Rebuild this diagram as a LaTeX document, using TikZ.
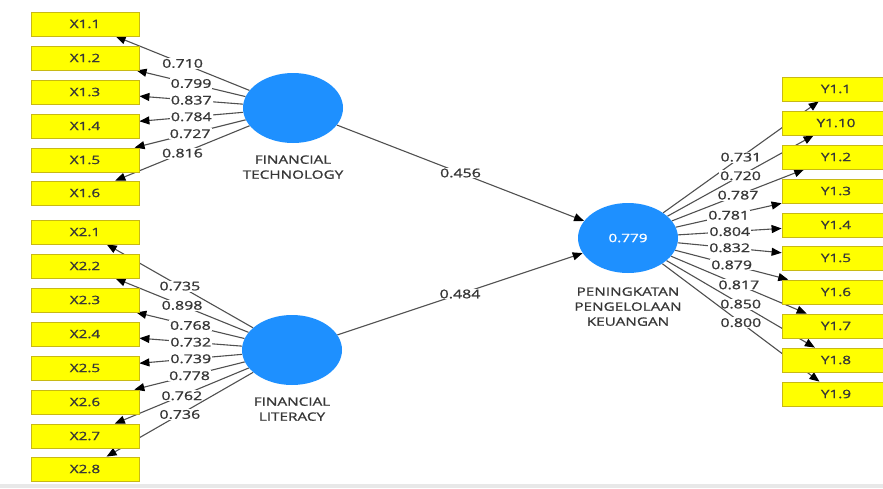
\documentclass[tikz,border=0pt]{standalone}
\usepackage{fontspec}
\setmainfont{Open Sans}[FakeStretch=1.33, FakeBold=1.2]
\usetikzlibrary{arrows.meta,shapes.geometric,positioning,backgrounds}
\definecolor{Kuning}{RGB}{255, 255, 0}
\definecolor{KuningTepi}{RGB}{200, 185, 20}
\definecolor{Biru}{RGB}{30, 144, 255}
\definecolor{Garis}{RGB}{80, 80, 80}
\definecolor{Teks}{RGB}{55, 55, 55}

\tikzset{
  indikator/.style={draw=KuningTepi, fill=Kuning, line width=0.8pt, minimum width=108pt,
    minimum height=24pt, inner sep=0pt, text=Teks, font=\fontsize{11.5}{13}\selectfont},
  konstruk/.style={ellipse, fill=Biru, minimum width=100pt, minimum height=70pt, inner sep=0pt,
    text=white, font=\fontsize{11.5}{13}\selectfont},
  keterangan/.style={align=center, inner sep=0pt, text=Teks, font=\fontsize{11.5}{15}\selectfont},
  muatan/.style={draw=Garis, line width=1.1pt, -{Triangle[length=10pt,width=8pt,color=black]}},
  nilai/.style={fill=white, inner sep=1pt, text=Teks, font=\fontsize{12}{13}\selectfont}
}

\begin{document}
\begin{tikzpicture}[x=1pt, y=-1pt]
  \useasboundingbox (0,0) rectangle (883,488);
  \fill[black!9] (0,484) rectangle (883,488);

  %# KONSTRUK
  \node[konstruk] (ft) at (293,108) {};
  \node[konstruk] (fl) at (292,350) {};
  \node[konstruk] (ppk) at (628,238) {0.779};
  \node[keterangan, below=12pt of ft] (ftlabel) {FINANCIAL\\TECHNOLOGY};
  \node[keterangan, below=12pt of fl] (fllabel) {FINANCIAL\\LITERACY};
  \node[keterangan, below=14pt of ppk] (ppklabel) {PENINGKATAN\\PENGELOLAAN\\KEUANGAN};

  %# INDIKATOR FINANCIAL TECHNOLOGY
  \node[indikator] (x11) at (85,24) {X1.1};
  \node[indikator] (x12) at (85,58) {X1.2};
  \node[indikator] (x13) at (85,92) {X1.3};
  \node[indikator] (x14) at (85,126) {X1.4};
  \node[indikator] (x15) at (85,160) {X1.5};
  \node[indikator] (x16) at (85,193) {X1.6};

  %# INDIKATOR FINANCIAL LITERACY
  \node[indikator] (x21) at (85,232) {X2.1};
  \node[indikator] (x22) at (85,266) {X2.2};
  \node[indikator] (x23) at (85,300) {X2.3};
  \node[indikator] (x24) at (85,334) {X2.4};
  \node[indikator] (x25) at (85,368) {X2.5};
  \node[indikator] (x26) at (85,402) {X2.6};
  \node[indikator] (x27) at (85,436) {X2.7};
  \node[indikator] (x28) at (85,469) {X2.8};

  %# INDIKATOR PENINGKATAN PENGELOLAAN KEUANGAN
  \node[indikator] (y11) at (836,89) {Y1.1};
  \node[indikator] (y110) at (836,123) {Y1.10};
  \node[indikator] (y12) at (836,157) {Y1.2};
  \node[indikator] (y13) at (836,191) {Y1.3};
  \node[indikator] (y14) at (836,225) {Y1.4};
  \node[indikator] (y15) at (836,258) {Y1.5};
  \node[indikator] (y16) at (836,292) {Y1.6};
  \node[indikator] (y17) at (836,326) {Y1.7};
  \node[indikator] (y18) at (836,360) {Y1.8};
  \node[indikator] (y19) at (836,394) {Y1.9};

  \begin{scope}[on background layer]
  %# MUATAN FINANCIAL TECHNOLOGY
  \draw[muatan] (ft) -- node[nilai] {0.710} (x11);
  \draw[muatan] (ft) -- node[nilai] {0.799} (x12);
  \draw[muatan] (ft) -- node[nilai] {0.837} (x13);
  \draw[muatan] (ft) -- node[nilai] {0.784} (x14);
  \draw[muatan] (ft) -- node[nilai] {0.727} (x15);
  \draw[muatan] (ft) -- node[nilai] {0.816} (x16);

  %# MUATAN FINANCIAL LITERACY
  \draw[muatan] (fl) -- node[nilai] {0.735} (x21);
  \draw[muatan] (fl) -- node[nilai] {0.898} (x22);
  \draw[muatan] (fl) -- node[nilai] {0.768} (x23);
  \draw[muatan] (fl) -- node[nilai] {0.732} (x24);
  \draw[muatan] (fl) -- node[nilai] {0.739} (x25);
  \draw[muatan] (fl) -- node[nilai] {0.778} (x26);
  \draw[muatan] (fl) -- node[nilai] {0.762} (x27);
  \draw[muatan] (fl) -- node[nilai] {0.736} (x28);

  %# MUATAN PENINGKATAN PENGELOLAAN KEUANGAN
  \draw[muatan] (ppk) -- node[nilai] {0.731} (y11);
  \draw[muatan] (ppk) -- node[nilai] {0.720} (y110);
  \draw[muatan] (ppk) -- node[nilai] {0.787} (y12);
  \draw[muatan] (ppk) -- node[nilai] {0.781} (y13);
  \draw[muatan] (ppk) -- node[nilai] {0.804} (y14);
  \draw[muatan] (ppk) -- node[nilai] {0.832} (y15);
  \draw[muatan] (ppk) -- node[nilai] {0.879} (y16);
  \draw[muatan] (ppk) -- node[nilai] {0.817} (y17);
  \draw[muatan] (ppk) -- node[nilai] {0.850} (y18);
  \draw[muatan] (ppk) -- node[nilai] {0.800} (y19);

  %# JALUR STRUKTURAL
  \draw[muatan] (ft) -- node[nilai] {0.456} (ppk);
  \draw[muatan] (fl) -- node[nilai] {0.484} (ppk);
  \end{scope}
\end{tikzpicture}
\end{document}
